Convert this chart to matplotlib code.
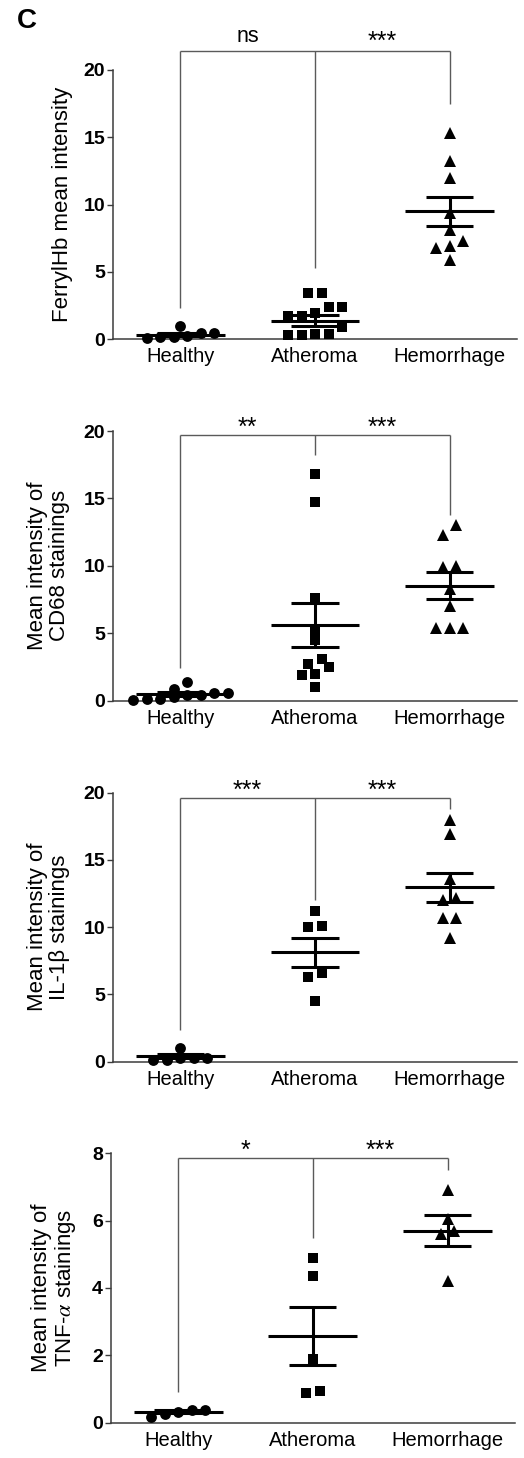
import numpy as np
import matplotlib
matplotlib.use('Agg')
import matplotlib.pyplot as plt

plt.rcParams['font.family'] = ['Liberation Sans', 'DejaVu Sans']
plt.rcParams['mathtext.fontset'] = 'stix'

# ---------------- data ----------------
groups = ["Healthy", "Atheroma", "Hemorrhage"]

# Panel 1: FerrylHb
ferryl_healthy = [0.45, 0.12, 1.0, 0.05, 0.45, 0.12, 0.2]
ferryl_atheroma = [3.4, 3.4, 2.35, 2.35, 1.95, 1.7, 1.7, 0.9, 0.35, 0.3, 0.3, 0.4]
ferryl_hemorrhage = [15.3, 13.2, 12.0, 9.4, 8.1, 7.3, 6.9, 6.8, 5.9]
ferryl_mean = [0.33, 1.36, 9.48]
ferryl_sem = [0.08, 0.43, 1.1]
ferryl_bracket_top = 21.4
ferryl_bracket_legs = [2.3, 5.3, 17.5]
ferryl_sig = ["ns", "***"]

# Panel 2: CD68
cd68_healthy = [0.45, 0.1, 0.55, 0.9, 1.35, 0.05, 0.6, 0.1, 0.4, 0.3]
cd68_atheroma = [16.8, 14.7, 7.6, 5.25, 4.5, 3.1, 2.7, 2.5, 2.0, 1.9, 1.05]
cd68_hemorrhage = [13.0, 12.3, 10.0, 9.9, 8.3, 7.0, 5.4, 5.4, 5.4]
cd68_mean = [0.5, 5.6, 8.53]
cd68_sem = [0.12, 1.63, 0.99]
cd68_bracket_top = 19.7
cd68_bracket_legs = [2.4, 18.2, 13.8]
cd68_sig = ["**", "***"]

# Panel 3: IL-1beta
il1b_healthy = [1.05, 0.3, 0.25, 0.12, 0.12, 0.3]
il1b_atheroma = [11.2, 10.0, 10.1, 6.6, 6.3, 4.5]
il1b_hemorrhage = [18.0, 16.9, 13.6, 12.2, 12.0, 10.7, 10.7, 9.2]
il1b_mean = [0.42, 8.13, 12.96]
il1b_sem = [0.12, 1.09, 1.1]
il1b_bracket_top = 19.6
il1b_bracket_legs = [2.35, 12.0, 18.8]
il1b_sig = ["***", "***"]

# Panel 4: TNF-alpha
tnf_healthy = [0.38, 0.33, 0.16, 0.25, 0.38]
tnf_atheroma = [4.9, 4.35, 1.9, 0.87, 0.94]
tnf_hemorrhage = [6.9, 6.05, 5.7, 5.6, 4.2]
tnf_mean = [0.33, 2.58, 5.70]
tnf_sem = [0.04, 0.86, 0.455]
tnf_bracket_top = 7.85
tnf_bracket_legs = [0.92, 5.48, 7.49]
tnf_sig = ["*", "***"]

ylabels = ["FerrylHb mean intensity",
           "Mean intensity of\nCD68 stainings",
           "Mean intensity of\nIL-1\u03b2 stainings",
           "Mean intensity of\nTNF-$\\alpha$ stainings"]
yticks_20 = [0, 5, 10, 15, 20]
yticks_8 = [0, 2, 4, 6, 8]

panels = [
    dict(vals=[ferryl_healthy, ferryl_atheroma, ferryl_hemorrhage], mean=ferryl_mean, sem=ferryl_sem,
         top=ferryl_bracket_top, legs=ferryl_bracket_legs, sig=ferryl_sig, yt=yticks_20),
    dict(vals=[cd68_healthy, cd68_atheroma, cd68_hemorrhage], mean=cd68_mean, sem=cd68_sem,
         top=cd68_bracket_top, legs=cd68_bracket_legs, sig=cd68_sig, yt=yticks_20),
    dict(vals=[il1b_healthy, il1b_atheroma, il1b_hemorrhage], mean=il1b_mean, sem=il1b_sem,
         top=il1b_bracket_top, legs=il1b_bracket_legs, sig=il1b_sig, yt=yticks_20),
    dict(vals=[tnf_healthy, tnf_atheroma, tnf_hemorrhage], mean=tnf_mean, sem=tnf_sem,
         top=tnf_bracket_top, legs=tnf_bracket_legs, sig=tnf_sig, yt=yticks_8),
]

# ---------------- layout ----------------
W, H = 524, 1458
fig = plt.figure(figsize=(W / 100, H / 100), dpi=100)
boxes = [(113, 517, 70, 339), (113, 517, 431, 700.7),
         (113, 517, 792.7, 1061.7), (110.7, 515, 1153.3, 1422.7)]
label_x = [-0.124, -0.16, -0.16, -0.138]
sig_offsets = [[6.5, 2.0], [0.0, 0.0], [0.0, 0.0], [0.0, 0.0]]
markers = ['o', 's', '^']
msizes = [7.8, 7.2, 9.0]
spine_col = '#3c3c3c'
brk_col = '#5a5a5a'


def row_offsets(vals, bin_h, dx):
    vals = np.asarray(vals, float)
    order = np.argsort(vals)
    offs = np.zeros(len(vals))
    i = 0
    n = len(vals)
    while i < n:
        start = vals[order[i]]
        j = i
        while j < n and vals[order[j]] - start < bin_h:
            j += 1
        grp = order[i:j]
        k = len(grp)
        for m, idx in enumerate(grp):
            offs[idx] = (m - (k - 1) / 2) * dx
        i = j
    return offs


for p, (l, r, t, b), lx, so, yl in zip(panels, boxes, label_x, sig_offsets, ylabels):
    ax = fig.add_axes([l / W, 1 - b / H, (r - l) / W, (b - t) / H])
    ymax = p['yt'][-1]
    ax.set_xlim(0.5, 3.5)
    ax.set_ylim(0, ymax)
    for s in ['top', 'right']:
        ax.spines[s].set_visible(False)
    for s in ['left', 'bottom']:
        ax.spines[s].set_color(spine_col)
        ax.spines[s].set_linewidth(1.1)
    ax.set_yticks(p['yt'])
    ax.set_yticklabels([str(v) for v in p['yt']], fontsize=14, fontweight='bold')
    ax.set_xticks([1, 2, 3])
    ax.set_xticklabels(groups, fontsize=14.5)
    ax.tick_params(axis='x', length=0, pad=6)
    ax.tick_params(axis='y', length=4.5, width=1, pad=1, color=spine_col)
    ax.set_ylabel(yl, fontsize=16, linespacing=1.05)
    ax.yaxis.label.set_va('center')
    ax.yaxis.set_label_coords(lx, 0.5)

    ppx = (r - l) / 3.0
    ppy = (b - t) / ymax
    for gi, vals in enumerate(p['vals']):
        x0 = gi + 1
        offs = row_offsets(vals, 9.5 / ppy, 13.5 / ppx)
        ax.plot(x0 + offs, vals, linestyle='none', marker=markers[gi],
                markersize=msizes[gi], color='black', markeredgewidth=0,
                clip_on=False, zorder=3)
        m, se = p['mean'][gi], p['sem'][gi]
        ax.hlines(m, x0 - 0.33, x0 + 0.33, color='black', lw=2.2, zorder=4)
        ax.vlines(x0, m - se, m + se, color='black', lw=2.2, zorder=4)
        ax.hlines([m - se, m + se], x0 - 0.175, x0 + 0.175, color='black', lw=2.2, zorder=4)

    top = p['top']
    ax.plot([1, 3], [top, top], color=brk_col, lw=1.0, clip_on=False, solid_capstyle='butt')
    ax.vlines([1, 2, 3], p['legs'], top, color=brk_col, lw=1.0, clip_on=False)
    for xi, (txt, off) in enumerate(zip(p['sig'], so)):
        fs = 15.5 if txt == 'ns' else 18
        ax.annotate(txt, xy=(1.5 + xi, top), xytext=(0, off), textcoords='offset points',
                    ha='center', va='baseline', fontsize=fs, annotation_clip=False)

fig.text(17 / W, 1 - 28 / H, 'C', fontsize=20, fontweight='bold', va='baseline', ha='left')

fig.savefig('out.png', dpi=100)
